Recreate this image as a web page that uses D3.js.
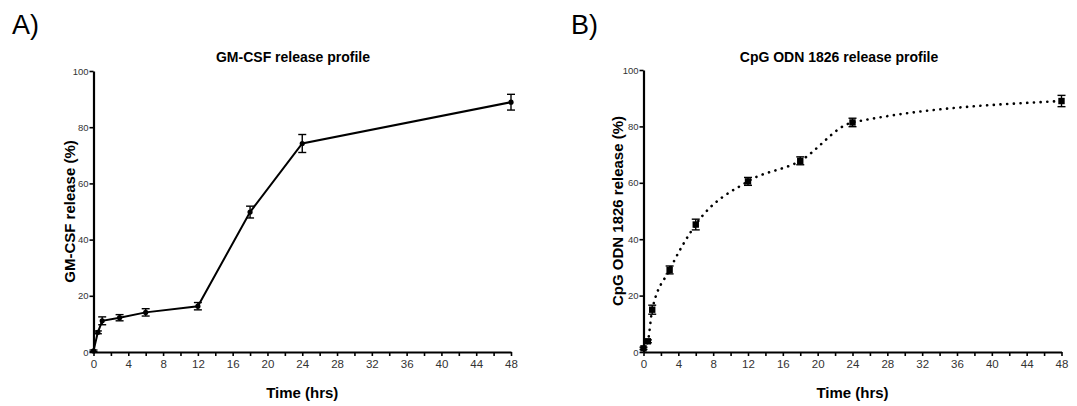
<!DOCTYPE html>
<html>
<head>
<meta charset="utf-8">
<script src="https://cdn.jsdelivr.net/npm/d3@7"></script>
<style>
    body { margin: 0; background: #fff; }
    svg { display: block; font-family: "Liberation Sans", Arial, sans-serif; }
    .tick text { fill: #333; }
</style>
</head>
<body>
<svg id="chart" width="1077" height="406"></svg>
<script>
// GM-CSF release (panel A)
const gmTime = [0, 0.5, 1, 3, 6, 12, 18, 24, 48];
const gmRelease = [0.4, 7.0, 11.1, 12.2, 14.1, 16.3, 49.8, 74.2, 88.9];
const gmError = [0.3, 0.5, 1.4, 1.1, 1.3, 1.3, 2.1, 3.2, 2.8];

// CpG ODN 1826 release (panel B)
const cpgTime = [0, 0.5, 1, 3, 6, 12, 18, 24, 48];
const cpgRelease = [1.3, 3.8, 15.0, 29.1, 45.2, 60.5, 67.8, 81.4, 89.0];
const cpgError = [0.4, 0.5, 1.6, 1.4, 1.9, 1.4, 1.4, 1.5, 2.0];

const xTicks = d3.range(0, 49, 2);
const yTicks = [0, 20, 40, 60, 80, 100];

const svg = d3.select("#chart");

function drawPanel(opts) {
    const x = d3.scaleLinear().domain([0, 48]).range([opts.left, opts.right]);
    const y = d3.scaleLinear().domain([0, 100]).range([opts.bottom, opts.top]);
    const g = svg.append("g").attr("class", "panel");

    // panel letter
    g.append("text")
        .attr("x", opts.letterX)
        .attr("y", 34)
        .attr("font-size", 27)
        .text(opts.letter);

    // title
    g.append("text")
        .attr("x", opts.titleX)
        .attr("y", 62)
        .attr("text-anchor", "middle")
        .attr("font-size", 14)
        .attr("font-weight", "bold")
        .text(opts.title);

    // x axis
    const xAxis = g.append("g")
        .attr("transform", "translate(0," + opts.bottom + ")")
        .call(d3.axisBottom(x)
            .tickValues(xTicks)
            .tickSize(4)
            .tickSizeOuter(0)
            .tickPadding(4)
            .tickFormat(d => (d % 4 === 0) ? d : ""));
    xAxis.select(".domain").attr("stroke-width", 2.2);
    xAxis.selectAll(".tick line").attr("stroke-width", 1.6);
    xAxis.selectAll(".tick text").attr("font-size", 11.5);

    // y axis
    const yAxis = g.append("g")
        .attr("transform", "translate(" + opts.left + ",0)")
        .call(d3.axisLeft(y)
            .tickValues(yTicks)
            .tickSize(4)
            .tickSizeOuter(0)
            .tickPadding(1));
    yAxis.select(".domain").attr("stroke-width", 2.2);
    yAxis.selectAll(".tick line").attr("stroke-width", 1.6);
    yAxis.selectAll(".tick text").attr("font-size", 9.5);

    // axis labels
    g.append("text")
        .attr("x", (opts.left + opts.right) / 2)
        .attr("y", 398)
        .attr("text-anchor", "middle")
        .attr("font-size", 15)
        .attr("font-weight", "bold")
        .text("Time (hrs)");

    g.append("text")
        .attr("transform", "translate(" + opts.yLabelX + "," + ((opts.top + opts.bottom) / 2) + ") rotate(-90)")
        .attr("text-anchor", "middle")
        .attr("font-size", 15)
        .attr("font-weight", "bold")
        .text(opts.yLabel);

    const rows = opts.time.map((t, i) => ({t: t, v: opts.values[i], e: opts.errors[i]}));

    // connecting line
    const line = d3.line()
        .x(d => x(d.t))
        .y(d => y(d.v))
        .curve(opts.curve);
    const path = g.append("path")
        .datum(rows)
        .attr("d", line)
        .attr("fill", "none")
        .attr("stroke", "#000");
    if (opts.dotted) {
        path.attr("stroke-width", 2.6)
            .attr("stroke-linecap", "round")
            .attr("stroke-dasharray", "0.1,6.6");
    } else {
        path.attr("stroke-width", 2);
    }

    // error bars
    const bars = g.selectAll(".errbar")
        .data(rows)
        .enter()
        .append("g")
        .attr("class", "errbar")
        .attr("stroke", "#000")
        .attr("stroke-width", 1.4);
    bars.append("line")
        .attr("x1", d => x(d.t)).attr("x2", d => x(d.t))
        .attr("y1", d => y(d.v - d.e)).attr("y2", d => y(d.v + d.e));
    bars.append("line")
        .attr("x1", d => x(d.t) - 4).attr("x2", d => x(d.t) + 4)
        .attr("y1", d => y(d.v + d.e)).attr("y2", d => y(d.v + d.e));
    bars.append("line")
        .attr("x1", d => x(d.t) - 4).attr("x2", d => x(d.t) + 4)
        .attr("y1", d => y(d.v - d.e)).attr("y2", d => y(d.v - d.e));

    // markers
    if (opts.marker === "square") {
        g.selectAll(".pt")
            .data(rows)
            .enter()
            .append("rect")
            .attr("class", "pt")
            .attr("x", d => x(d.t) - 3.2)
            .attr("y", d => y(d.v) - 3.2)
            .attr("width", 6.4)
            .attr("height", 6.4)
            .attr("fill", "#000");
    } else {
        g.selectAll(".pt")
            .data(rows)
            .enter()
            .append("circle")
            .attr("class", "pt")
            .attr("cx", d => x(d.t))
            .attr("cy", d => y(d.v))
            .attr("r", 2.6)
            .attr("fill", "#000");
    }
}

drawPanel({
    letter: "A)", letterX: 12,
    title: "GM-CSF release profile", titleX: 293,
    yLabel: "GM-CSF release (%)", yLabelX: 75,
    left: 93.5, right: 511, top: 71, bottom: 352,
    time: gmTime, values: gmRelease, errors: gmError,
    curve: d3.curveLinear, dotted: false, marker: "circle"
});

drawPanel({
    letter: "B)", letterX: 571,
    title: "CpG ODN 1826 release profile", titleX: 839,
    yLabel: "CpG ODN 1826 release (%)", yLabelX: 623,
    left: 643.5, right: 1061.5, top: 70, bottom: 352,
    time: cpgTime, values: cpgRelease, errors: cpgError,
    curve: d3.curveMonotoneX, dotted: true, marker: "square"
});
</script>
</body>
</html>
